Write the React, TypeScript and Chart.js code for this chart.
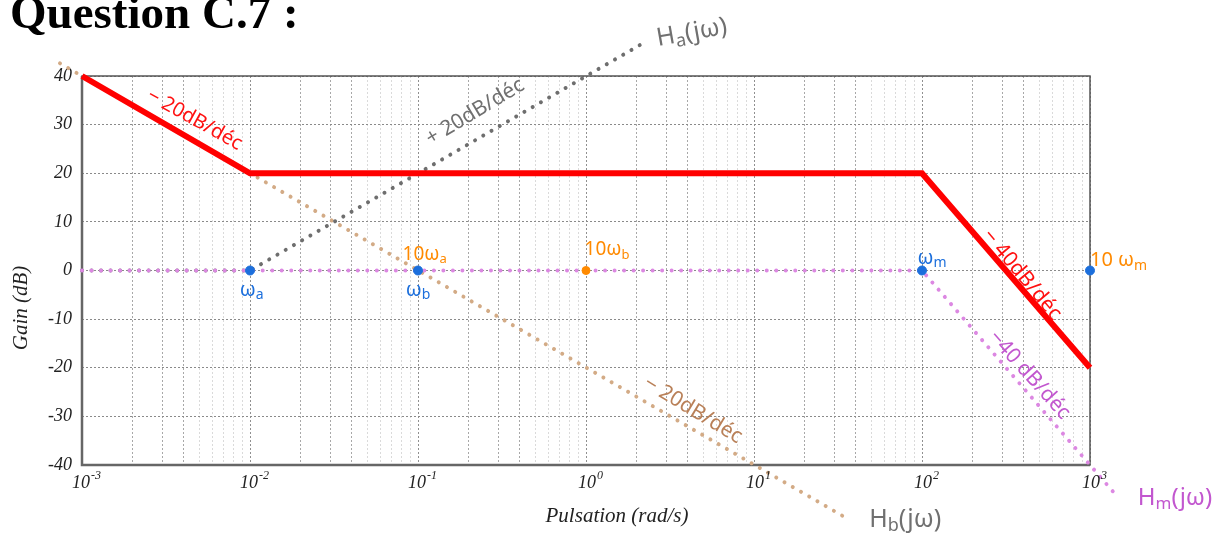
import React, { useEffect, useRef } from 'react';
import { Chart, registerables } from 'chart.js';

Chart.register(...registerables);

// ---- data ----
const xExponents = [-3, -2, -1, 0, 1, 2, 3];
const xTickExpLabels = ['-3', '-2', '-1', '0', '1', '2', '3'];
const yTickValues = [40, 30, 20, 10, 0, -10, -20, -30, -40];

// total asymptotic gain (red)
const totalX = [1e-3, 1e-2, 1e2, 1e3];
const totalY = [40, 20, 20, -20];
// Ha(jw) (gray dotted)
const haX = [1e-3, 1e-2, 2.1];
const haY = [0, 0, 46.4];
// Hb(jw) (brown dotted)
const hbX = [0.00074, 35];
const hbY = [42.6, -50.8];
// Hm(jw) (purple dotted)
const hmX = [1e-3, 1e2, 1e3, 1413];
const hmY = [0, 0, -40, -46];
// break frequencies
const breakX = [1e-2, 1e-1, 1e2, 1e3];
const breakY = [0, 0, 0, 0];
const tenWbX = [1];
const tenWbY = [0];

const RED = '#ff0000';
const GRAY = '#6e6e6e';
const BROWN = '#d3ab86';
const PURPLE = '#dc88e2';
const BLUE = '#1c6fdc';
const ORANGE = '#ff8a00';

type Part = [string, boolean];
const notes: { parts: Part[]; lx: number; y: number; rot: number; color: string; size: number }[] = [
  { parts: [['− 20dB/déc', false]], lx: -2.33, y: 31, rot: 29, color: '#ff1010', size: 20 },
  { parts: [['+ 20dB/déc', false]], lx: -0.66, y: 32.6, rot: -31, color: '#707070', size: 21 },
  { parts: [['H', false], ['a', true], ['(jω)', false]], lx: 0.63, y: 48.9, rot: -10, color: '#707070', size: 25 },
  { parts: [['− 40dB/déc', false]], lx: 2.595, y: -0.9, rot: 50, color: '#ff1010', size: 21 },
  { parts: [['−40 dB/déc', false]], lx: 2.64, y: -21.5, rot: 48, color: '#c257cf', size: 21 },
  { parts: [['− 20dB/déc', false]], lx: 0.637, y: -28.7, rot: 31, color: '#b98058', size: 21 },
  { parts: [['H', false], ['b', true], ['(jω)', false]], lx: 1.9, y: -51.3, rot: 0, color: '#707070', size: 25 },
  { parts: [['H', false], ['m', true], ['(jω)', false]], lx: 3.506, y: -46.8, rot: 0, color: '#c257cf', size: 24 },
  { parts: [['ω', false], ['a', true]], lx: -1.99, y: -4, rot: 0, color: BLUE, size: 20 },
  { parts: [['ω', false], ['b', true]], lx: -1.0, y: -4, rot: 0, color: BLUE, size: 20 },
  { parts: [['ω', false], ['m', true]], lx: 2.06, y: 2.6, rot: 0, color: BLUE, size: 20 },
  { parts: [['10ω', false], ['a', true]], lx: -0.96, y: 3.2, rot: 0, color: ORANGE, size: 19 },
  { parts: [['10ω', false], ['b', true]], lx: 0.125, y: 4.2, rot: 0, color: ORANGE, size: 19 },
  { parts: [['10 ω', false], ['m', true]], lx: 3.17, y: 2.0, rot: 0, color: ORANGE, size: 20 },
];

const pts = (xs: number[], ys: number[]) => xs.map((x, i) => ({ x, y: ys[i] }));

const decorPlugin = {
  id: 'decor',
  beforeDatasetsDraw(chart: any) {
    const { ctx, chartArea: a } = chart;
    ctx.save();
    ctx.strokeStyle = '#555';
    ctx.lineWidth = 1.5;
    ctx.strokeRect(a.left, a.top, a.right - a.left, a.bottom - a.top);
    ctx.lineWidth = 2.5;
    ctx.strokeStyle = '#666';
    ctx.beginPath();
    ctx.moveTo(a.left, a.top);
    ctx.lineTo(a.left, a.bottom);
    ctx.lineTo(a.right, a.bottom);
    ctx.stroke();
    ctx.restore();
  },
  afterDraw(chart: any) {
    const { ctx, chartArea: a } = chart;
    const xs = chart.scales.x;
    const ys = chart.scales.y;
    ctx.save();
    // title
    ctx.fillStyle = '#000';
    ctx.font = 'bold 47px "Liberation Serif"';
    ctx.textBaseline = 'alphabetic';
    ctx.textAlign = 'left';
    ctx.fillText('Question C.7 :', 10, 28);
    // x tick labels 10^n
    ctx.fillStyle = '#222';
    ctx.textBaseline = 'alphabetic';
    xExponents.forEach((e, i) => {
      const px = xs.getPixelForValue(Math.pow(10, e));
      ctx.font = 'italic 18px "Liberation Serif"';
      const w1 = ctx.measureText('10').width;
      ctx.font = 'italic 12px "Liberation Serif"';
      const w2 = ctx.measureText(xTickExpLabels[i]).width;
      const x0 = px - (w1 + w2) / 2 + 4;
      ctx.textAlign = 'left';
      ctx.font = 'italic 18px "Liberation Serif"';
      ctx.fillText('10', x0, a.bottom + 23);
      ctx.font = 'italic 12px "Liberation Serif"';
      ctx.fillText(xTickExpLabels[i], x0 + w1 + 1, a.bottom + 14);
    });
    // axis titles
    ctx.fillStyle = '#222';
    ctx.font = 'italic 21px "Liberation Serif"';
    ctx.textAlign = 'center';
    ctx.textBaseline = 'middle';
    ctx.fillText('Pulsation (rad/s)', 617, 516);
    ctx.save();
    ctx.translate(21, 308);
    ctx.rotate(-Math.PI / 2);
    ctx.fillText('Gain (dB)', 0, 0);
    ctx.restore();
    // annotations
    for (const n of notes) {
      const px = xs.getPixelForValue(Math.pow(10, n.lx));
      const py = ys.getPixelForValue(n.y);
      const mainFont = `${n.size}px "Noto Sans"`;
      const subFont = `${Math.round(n.size * 0.7)}px "Noto Sans"`;
      let w = 0;
      for (const [t, sub] of n.parts) {
        ctx.font = sub ? subFont : mainFont;
        w += ctx.measureText(t).width;
      }
      ctx.save();
      ctx.translate(px, py);
      ctx.rotate((n.rot * Math.PI) / 180);
      ctx.fillStyle = n.color;
      ctx.textAlign = 'left';
      ctx.textBaseline = 'middle';
      let cx = -w / 2;
      for (const [t, sub] of n.parts) {
        ctx.font = sub ? subFont : mainFont;
        ctx.fillText(t, cx, sub ? n.size * 0.25 : 0);
        cx += ctx.measureText(t).width;
      }
      ctx.restore();
    }
    ctx.restore();
  },
};

export default function App() {
  const ref = useRef<HTMLCanvasElement | null>(null);
  useEffect(() => {
    if (!ref.current) return;
    const dotted = (color: string) => ({
      borderColor: color,
      borderWidth: 4,
      borderDash: [0.01, 9.5],
      borderCapStyle: 'round' as const,
      pointRadius: 0,
      fill: false,
      tension: 0,
      clip: false as any,
    });
    const chart = new Chart(ref.current, {
      type: 'line',
      data: {
        datasets: [
          { label: 'ω break', data: pts(breakX, breakY), showLine: false, pointRadius: 4.5, pointBackgroundColor: BLUE, pointBorderColor: BLUE, clip: false as any },
          { label: '10ωb', data: pts(tenWbX, tenWbY), showLine: false, pointRadius: 4, pointBackgroundColor: ORANGE, pointBorderColor: ORANGE, clip: false as any },
          { label: 'H(jω)', data: pts(totalX, totalY), borderColor: RED, borderWidth: 6, pointRadius: 0, borderJoinStyle: 'miter', borderCapStyle: 'butt', clip: false as any },
          { label: 'Hm(jω)', data: pts(hmX, hmY), ...dotted(PURPLE) },
          { label: 'Ha(jω)', data: pts(haX, haY), ...dotted(GRAY) },
          { label: 'Hb(jω)', data: pts(hbX, hbY), ...dotted(BROWN) },
        ],
      },
      options: {
        responsive: false,
        animation: false,
        layout: { padding: { top: 76, right: 135, left: 0, bottom: 0 } },
        plugins: { legend: { display: false }, tooltip: { enabled: false } },
        scales: {
          x: {
            type: 'logarithmic',
            afterDataLimits: (s: any) => {
              s.min = Math.pow(10, xExponents[0]);
              s.max = Math.pow(10, xExponents[xExponents.length - 1]);
            },
            afterBuildTicks: (s: any) => {
              const t: { value: number }[] = [];
              for (const e of xExponents) {
                if (e === xExponents[xExponents.length - 1]) {
                  t.push({ value: Math.pow(10, e) });
                } else {
                  for (let m = 1; m <= 9; m++) t.push({ value: m * Math.pow(10, e) });
                }
              }
              s.ticks = t;
            },
            afterFit: (s: any) => {
              s.height = 70;
            },
            ticks: { display: false, autoSkip: false, maxRotation: 0, minRotation: 0 },
            grid: {
              drawTicks: false,
              lineWidth: 1,
              color: (c: any) => {
                const v = c.tick ? c.tick.value : 1;
                const m = Math.round(v / Math.pow(10, Math.floor(Math.log10(v) + 1e-9)));
                if (m === 1) return '#909090';
                if (m <= 4) return '#a8a8a8';
                return '#dadada';
              },
            },
            border: { display: false, dash: [2, 2] },
          },
          y: {
            type: 'linear',
            min: -40,
            max: 40,
            afterBuildTicks: (s: any) => {
              s.ticks = yTickValues.map((v) => ({ value: v }));
            },
            afterFit: (s: any) => {
              s.width = 82;
            },
            ticks: {
              padding: 10,
              color: '#222',
              font: { family: '"Liberation Serif"', style: 'italic', size: 18 },
            },
            grid: { drawTicks: false, color: '#8a8a8a', lineWidth: 1 },
            border: { display: false, dash: [2, 2] },
          },
        },
      },
      plugins: [decorPlugin],
    } as any);
    return () => chart.destroy();
  }, []);
  return (
    <div style={{ position: 'fixed', left: 0, top: 0, width: 1225, height: 535, background: '#fff' }}>
      <canvas ref={ref} width={1225} height={535} style={{ width: 1225, height: 535 }} />
    </div>
  );
}
